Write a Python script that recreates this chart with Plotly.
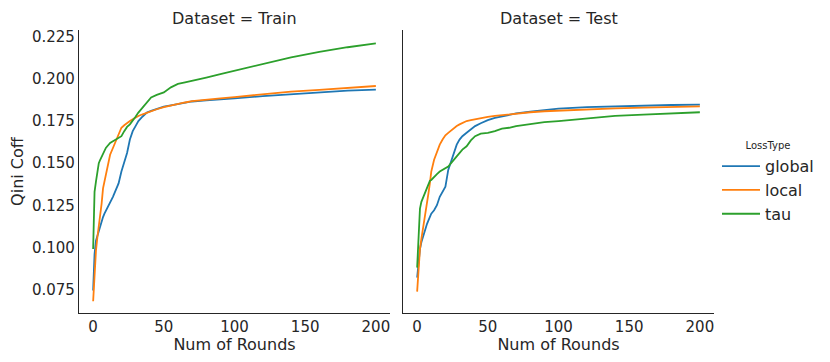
import plotly.graph_objects as go

rounds = [0, 1, 2, 3, 4, 5, 6, 7, 8, 9, 10, 12, 14, 16, 18, 20, 22, 24, 26, 28, 30,
          32, 35, 38, 41, 45, 50, 55, 60, 65, 70, 80, 90, 100, 120, 140, 160, 180, 200]

train_global = [0.0744, 0.096, 0.104, 0.107, 0.110, 0.113, 0.116, 0.118, 0.120, 0.1216,
                0.123, 0.127, 0.130, 0.134, 0.138, 0.145, 0.151, 0.156, 0.164, 0.169,
                0.172, 0.175, 0.1777, 0.180, 0.181, 0.1823, 0.1835, 0.1843, 0.185, 0.1858,
                0.1866, 0.1873, 0.1878, 0.1884, 0.1898, 0.1910, 0.1920, 0.1930, 0.1937]
train_local = [0.068, 0.086, 0.098, 0.106, 0.112, 0.118, 0.126, 0.135, 0.139, 0.143,
               0.148, 0.155, 0.159, 0.163, 0.167, 0.171, 0.1725, 0.174, 0.175, 0.176,
               0.1772, 0.178, 0.179, 0.180, 0.181, 0.182, 0.1833, 0.1843, 0.1852, 0.186,
               0.1868, 0.1878, 0.1885, 0.1892, 0.1910, 0.1925, 0.1935, 0.1948, 0.1958]
train_tau = [0.099, 0.133, 0.139, 0.145, 0.150, 0.152, 0.154, 0.156, 0.158, 0.159,
             0.160, 0.162, 0.163, 0.164, 0.165, 0.166, 0.169, 0.1715, 0.173, 0.175,
             0.1775, 0.180, 0.183, 0.186, 0.189, 0.1905, 0.192, 0.195, 0.197, 0.198,
             0.1988, 0.2008, 0.2028, 0.2048, 0.2090, 0.2128, 0.2160, 0.2188, 0.2211]

test_global = [0.082, 0.093, 0.099, 0.103, 0.106, 0.109, 0.112, 0.114, 0.116, 0.118,
               0.120, 0.122, 0.125, 0.130, 0.133, 0.136, 0.146, 0.151, 0.157, 0.161,
               0.164, 0.166, 0.168, 0.170, 0.172, 0.1737, 0.1755, 0.1768, 0.1778, 0.1786,
               0.1795, 0.1805, 0.1815, 0.1823, 0.1833, 0.1838, 0.1842, 0.1845, 0.1847]
test_local = [0.0737, 0.089, 0.099, 0.105, 0.110, 0.116, 0.121, 0.127, 0.132, 0.138,
              0.145, 0.152, 0.157, 0.161, 0.164, 0.1665, 0.168, 0.1695, 0.171, 0.172,
              0.173, 0.174, 0.175, 0.1755, 0.176, 0.1768, 0.1775, 0.178, 0.1785, 0.179,
              0.1795, 0.1802, 0.1808, 0.1812, 0.1820, 0.1825, 0.1829, 0.1833, 0.1837]
test_tau = [0.088, 0.107, 0.123, 0.127, 0.129, 0.131, 0.134, 0.136, 0.138, 0.1395,
            0.140, 0.142, 0.1435, 0.145, 0.146, 0.147, 0.148, 0.150, 0.152, 0.154,
            0.156, 0.158, 0.160, 0.1635, 0.166, 0.1675, 0.168, 0.169, 0.1705, 0.171,
            0.172, 0.1733, 0.1743, 0.175, 0.1765, 0.178, 0.1788, 0.1795, 0.1802]

loss_types = ["global", "local", "tau"]
colors = ["#1f77b4", "#ff7f0e", "#2ca02c"]
panels = [("Train", [train_global, train_local, train_tau]),
          ("Test", [test_global, test_local, test_tau])]

x_ticks = [0, 50, 100, 150, 200]
y_ticks = [0.075, 0.100, 0.125, 0.150, 0.175, 0.200, 0.225]
y_tick_text = ["%.3f" % v for v in y_ticks]

# page body has an 8px margin, so the figure is 16px smaller than the window
W, H = 814, 346
OFF = 8
FONT = "DejaVu Sans"
TXT = "#262626"


def px_x(p):
    return (p - OFF) / W


def px_y(p):
    return 1 - (p - OFF) / H


fig = go.Figure()
for pi, (name, series) in enumerate(panels):
    xa = "x" if pi == 0 else "x2"
    ya = "y" if pi == 0 else "y2"
    for si, vals in enumerate(series):
        fig.add_trace(go.Scatter(
            x=rounds, y=vals, mode="lines", name=loss_types[si],
            line=dict(color=colors[si], width=1.8),
            xaxis=xa, yaxis=ya, showlegend=(pi == 0)))

dom_left = [px_x(79), px_x(390)]
dom_right = [px_x(403), px_x(714)]
dom_y = [px_y(313), px_y(28)]
yrange = [0.0609, 0.2291]

common_x = dict(range=[-10, 210], tickvals=x_ticks, showgrid=False, zeroline=False,
                showline=True, linecolor=TXT, linewidth=1.3, ticks="",
                tickfont=dict(family=FONT, size=15, color=TXT),
                title=dict(text="Num of Rounds", font=dict(family=FONT, size=16, color=TXT),
                           standoff=2))
common_y = dict(range=yrange, tickvals=y_ticks, ticktext=y_tick_text, showgrid=False,
                zeroline=False, showline=True, linecolor=TXT, linewidth=1.3,
                ticks="", tickfont=dict(family=FONT, size=15, color=TXT))

fig.update_layout(
    width=W, height=H,
    margin=dict(l=0, r=0, t=0, b=0),
    paper_bgcolor="white", plot_bgcolor="white",
    font=dict(family=FONT, color=TXT),
    xaxis=dict(domain=dom_left, anchor="y", **common_x),
    xaxis2=dict(domain=dom_right, anchor="y2", **common_x),
    yaxis=dict(domain=dom_y, anchor="x",
               title=dict(text="Qini Coff", font=dict(family=FONT, size=16, color=TXT),
                          standoff=6), **common_y),
    yaxis2=dict(domain=dom_y, anchor="x2", showticklabels=False, matches="y", **common_y),
    legend=dict(x=px_x(717), y=px_y(135), xanchor="left", yanchor="top",
                bgcolor="rgba(0,0,0,0)", tracegroupgap=0, itemwidth=38,
                font=dict(family=FONT, size=16, color=TXT),
                title=dict(text="LossType", side="top center",
                           font=dict(family=FONT, size=10, color=TXT))),
    annotations=[
        dict(text="Dataset = Train", x=sum(dom_left) / 2, y=px_y(17), xref="paper",
             yref="paper", showarrow=False, xanchor="center", yanchor="middle",
             font=dict(family=FONT, size=16, color=TXT)),
        dict(text="Dataset = Test", x=sum(dom_right) / 2, y=px_y(17), xref="paper",
             yref="paper", showarrow=False, xanchor="center", yanchor="middle",
             font=dict(family=FONT, size=16, color=TXT)),
    ],
)

fig.write_html("out.html")
